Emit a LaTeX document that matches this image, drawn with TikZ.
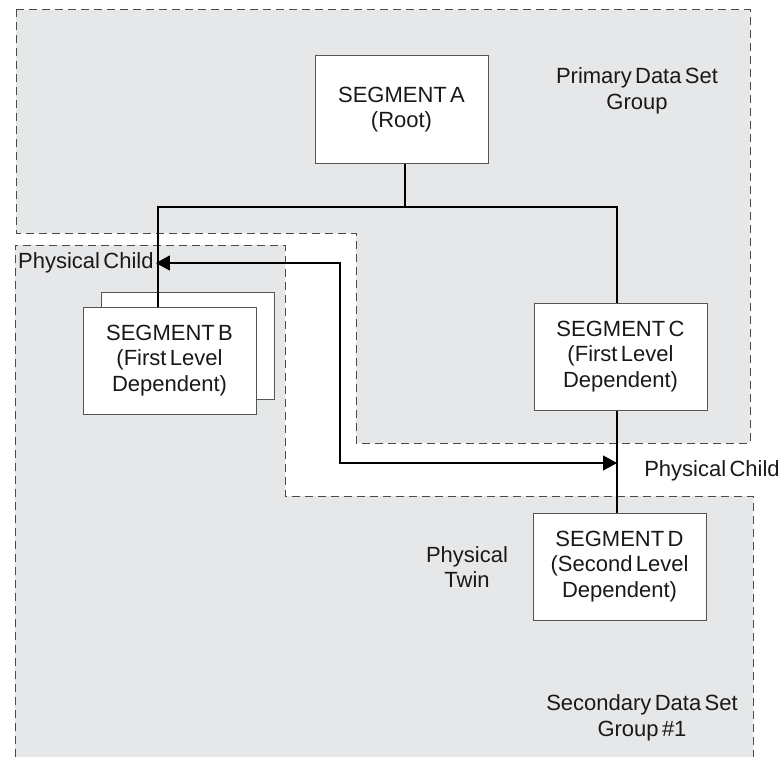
\documentclass[tikz,border=0pt]{standalone}
\usepackage{fontspec}
\setmainfont{Liberation Sans}[WordSpace=0.55]
\usetikzlibrary{arrows.meta}
\definecolor{grpfill}{HTML}{E6E7E9}
\definecolor{grpline}{HTML}{4A4A4A}
\definecolor{segline}{HTML}{555555}
\tikzset{
  grp/.style={draw=grpline,line width=1pt,dash pattern=on 8pt off 5pt},
  seg/.style={draw=segline,fill=white,line width=1pt,minimum width=173pt,minimum height=107pt,align=center,inner sep=0pt,text=black!90},
  lbl/.style={align=center,text=black!90},
  link/.style={line width=1.2pt},
}
\begin{document}
\begin{tikzpicture}[x=1pt,y=-1pt,font=\fontsize{22}{25.5}\selectfont,>={Triangle[length=14pt,width=15pt]}]
\useasboundingbox (0,0) rectangle (783,757);
% data set groups
\fill[grpfill](16,10)--(750,10)--(750,443)--(356,443)--(356,233)--(16,233)--cycle;
\fill[grpfill](15,757)--(15,245)--(285,245)--(285,496)--(753,496)--(753,757)--cycle;
\draw[grp](16,10)--(750,10)--(750,443)--(356,443)--(356,233)--(16,233)--cycle;
\draw[grp](15,757)--(15,245)--(285,245)--(285,496)--(753,496)--(753,757);
% segments
\node[seg](segA) at (401.5,109.5){SEGMENT A\\(Root)};
\node[seg](segBback) at (188,345.5){};
\node[seg](segB) at (169.5,360.5){SEGMENT B\\(First Level\\Dependent)};
\node[seg](segC) at (620.5,356.5){SEGMENT C\\(First Level\\Dependent)};
\node[seg](segD) at (619.5,566.5){SEGMENT D\\(Second Level\\Dependent)};
% hierarchy
\coordinate(jA) at (405,207);
\coordinate(jB) at (158,207);
\coordinate(jC) at (617,207);
\draw[link](segA.south -| jA)--(jA);
\draw[link](segB.north -| jB)--(jB)--(jC)--(segC.north -| jC);
\draw[link](segC.south -| jC)--(segD.north -| jC);
% labels
\node[lbl](prim) at (637,91){Primary Data Set\\Group};
\node[lbl,anchor=west,inner sep=2pt](pcB) at (16,263){Physical Child};
\node[lbl](pcD) at (712,471){Physical Child};
\node[lbl](twin) at (467,567){Physical\\Twin};
\node[lbl](sec) at (642,718){Secondary Data Set\\Group \#1};
% physical child pointers
\coordinate(bend) at (340,463);
\coordinate(cd) at (617,463);
\draw[link,<->](pcB.east)-|(bend)--(cd);
\end{tikzpicture}
\end{document}
